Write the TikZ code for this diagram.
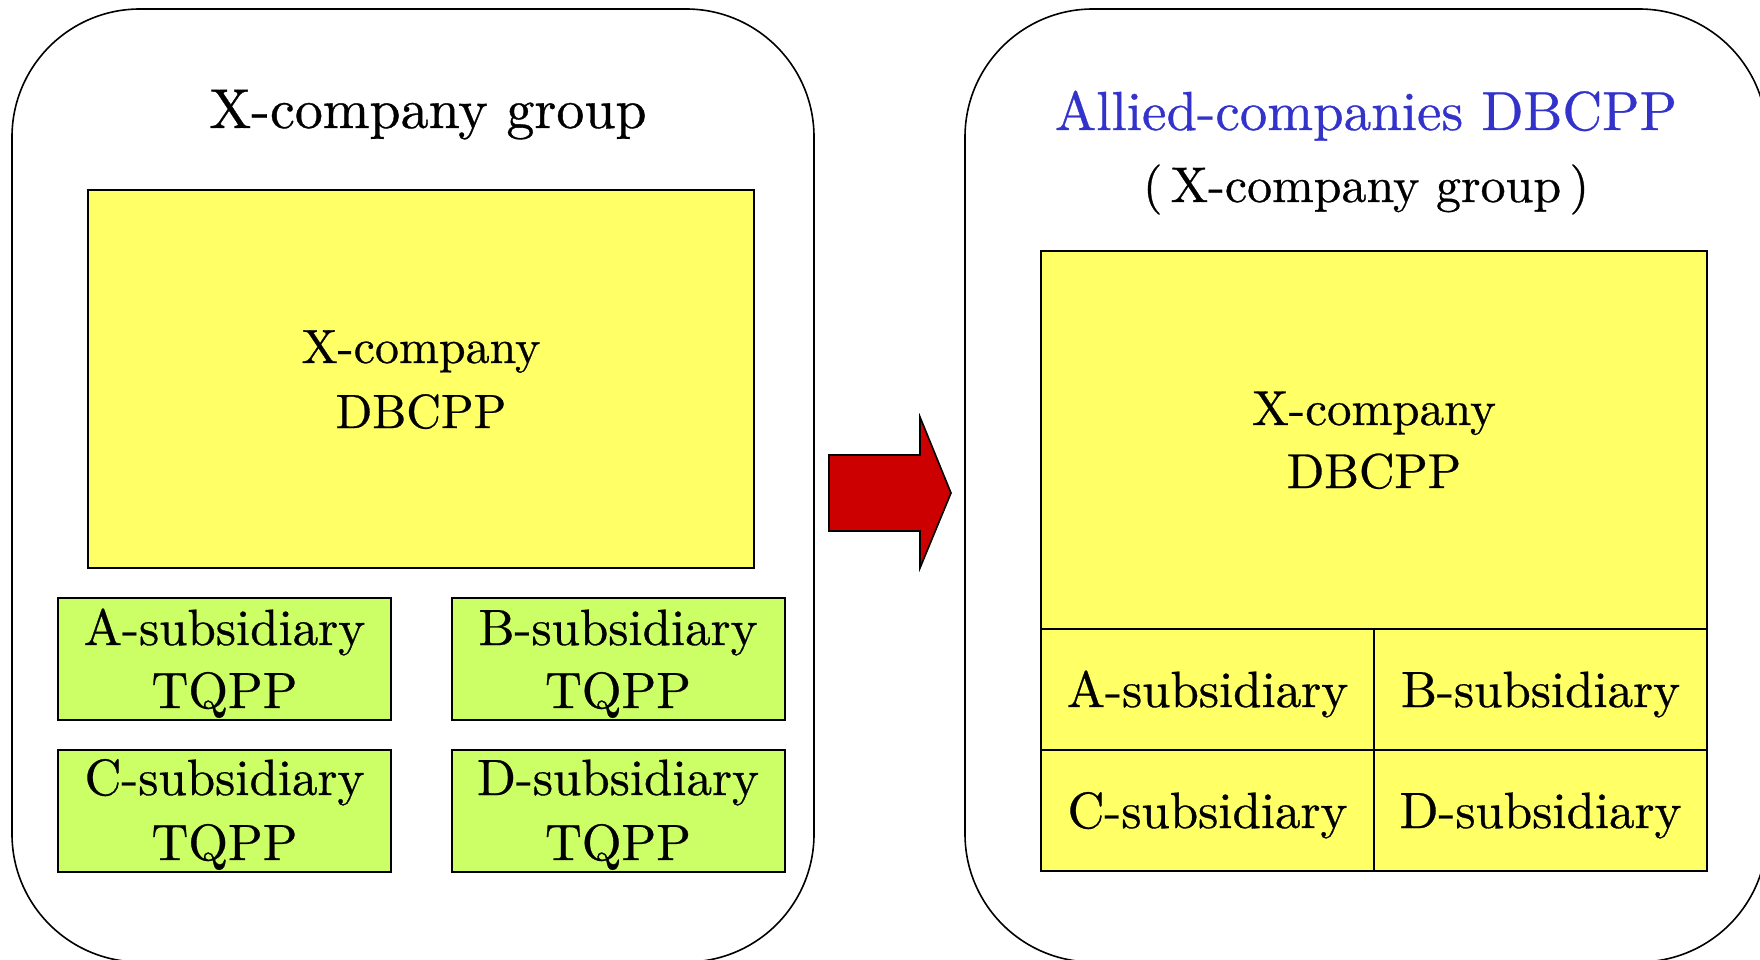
\documentclass[tikz,border=0pt]{standalone}
\usepackage{fontspec}
% the 10pt design of Latin Modern keeps its wider, darker letters at large sizes
\setmainfont{lmroman10-regular.otf}[FakeBold=0.6]
\begin{document}
\begin{tikzpicture}[x=1pt,y=-1pt,
  outerbox/.style={draw=black,line width=1.6pt,rounded corners=128pt},
  dbbox/.style={draw=black,line width=2pt,fill=dbyellow,inner sep=0pt,outer sep=0pt},
  subbox/.style={draw=black,line width=2pt,fill=subgreen,inner sep=0pt,outer sep=0pt,
                 minimum width=333pt,minimum height=122pt},
  cellbox/.style={draw=black,line width=2pt,fill=dbyellow,inner sep=0pt,outer sep=0pt,
                  minimum width=333pt,minimum height=121pt},
  txt/.style={anchor=base,inner sep=0pt,text=black},
]
\definecolor{dbyellow}{RGB}{255,255,102}
\definecolor{subgreen}{RGB}{204,255,102}
\definecolor{arrowred}{RGB}{204,0,0}
\definecolor{titleblue}{RGB}{51,51,204}

\useasboundingbox (0,0) rectangle (1760,960);
\clip (0,0) rectangle (1760,960);
\fill[white] (0,0) rectangle (1760,960);

% ---- before: the group with separate pension plans ----
\draw[outerbox] (12,9) rectangle (814,962);
\node[txt,font=\fontsize{56}{68}\selectfont] (ltitle) at (428,128) {X-company group};

\node[dbbox,minimum width=666pt,minimum height=378pt] (ldb) at (421,379) {};
\node[txt,font=\fontsize{48}{58}\selectfont] (ldb1) at (421,363) {X-company};
\node[txt,font=\fontsize{48}{58}\selectfont] (ldb2) at (421,428) {DBCPP};

\node[subbox] (sa) at (224.5,659) {};
\node[subbox] (sb) at (618,659) {};
\node[subbox] (sc) at (224.5,810.5) {};
\node[subbox] (sd) at (618,810.5) {};
\foreach \n/\l/\x/\ya/\yb in {sa/A/224.5/645/708, sb/B/618/645/708,
                               sc/C/224.5/795/860, sd/D/618/795/860}{
  \node[txt,font=\fontsize{51}{62}\selectfont] (\n1) at (\x,\ya) {\l-subsidiary};
  \node[txt,font=\fontsize{51}{62}\selectfont] (\n2) at (\x,\yb) {TQPP};
}

% ---- transition arrow ----
\fill[arrowred,draw=black,line width=1.6pt,line join=miter]
  (829,455) -- (920,455) -- (920,417) -- (951,493) -- (920,568)
  -- (920,531) -- (829,531) -- cycle;

% ---- after: one allied-companies plan ----
\draw[outerbox] (965,9) rectangle (1767,962);
\node[txt,font=\fontsize{55}{66}\selectfont,text=titleblue] (rtitle) at (1366,130)
  {Allied-companies DBCPP};
\node[txt,font=\fontsize{50}{60}\selectfont] (rsub) at (1366,202) {(\,X-company group\,)};

\node[dbbox,minimum width=666pt,minimum height=378pt] (rdb) at (1374,440) {};
\node[txt,font=\fontsize{49}{58}\selectfont] (rdb1) at (1374,425) {X-company};
\node[txt,font=\fontsize{49}{58}\selectfont] (rdb2) at (1374,488) {DBCPP};

\node[cellbox] (ca) at (1207.5,689.5) {};
\node[cellbox] (cb) at (1540.5,689.5) {};
\node[cellbox] (cc) at (1207.5,810.5) {};
\node[cellbox] (cd) at (1540.5,810.5) {};
\foreach \n/\l/\x/\y in {ca/A/1207.5/707, cb/B/1540.5/707,
                         cc/C/1207.5/828, cd/D/1540.5/828}{
  \node[txt,font=\fontsize{51}{61}\selectfont] (\n t) at (\x,\y) {\l-subsidiary};
}
\end{tikzpicture}
\end{document}
